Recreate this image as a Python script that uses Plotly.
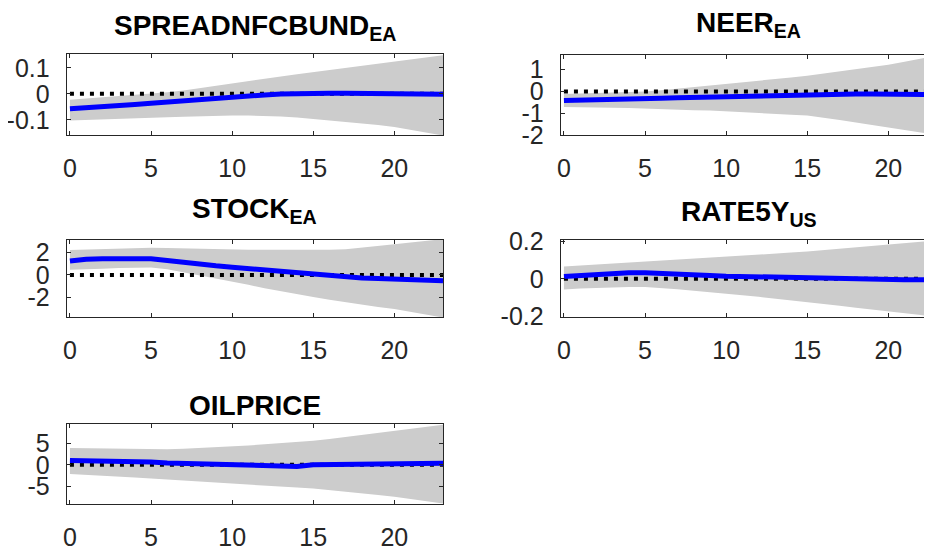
import plotly.graph_objects as go

W, H = 932, 550
OFF = 8  # page body margin in the browser (px)

horizon = list(range(24))

spread_mid = [-0.057, -0.054, -0.050, -0.045, -0.041, -0.036, -0.031, -0.026, -0.021, -0.016, -0.012, -0.008,
              -0.004, -0.001, 0.001, 0.002, 0.002, 0.002, 0.002, 0.002, 0.002, 0.002, 0.000, -0.002]
spread_up = [-0.023, -0.018, -0.013, -0.008, -0.004, 0.000, 0.006, 0.013, 0.022, 0.031, 0.042, 0.050,
             0.058, 0.067, 0.075, 0.083, 0.092, 0.100, 0.108, 0.116, 0.124, 0.132, 0.140, 0.148]
spread_lo = [-0.102, -0.100, -0.098, -0.096, -0.094, -0.092, -0.090, -0.088, -0.086, -0.084, -0.083, -0.083,
             -0.084, -0.087, -0.091, -0.096, -0.102, -0.108, -0.114, -0.120, -0.127, -0.138, -0.149, -0.160]

neer_mid = [-0.42, -0.41, -0.39, -0.37, -0.35, -0.33, -0.31, -0.29, -0.27, -0.25, -0.23, -0.21,
            -0.19, -0.17, -0.15, -0.14, -0.13, -0.12, -0.12, -0.12, -0.12, -0.13, -0.14, -0.15]
neer_up = [-0.12, -0.10, -0.08, -0.06, -0.03, 0.00, 0.05, 0.12, 0.19, 0.26, 0.34, 0.41,
           0.49, 0.57, 0.64, 0.72, 0.82, 0.92, 1.02, 1.12, 1.22, 1.36, 1.50, 1.64]
neer_lo = [-0.72, -0.73, -0.74, -0.75, -0.76, -0.77, -0.80, -0.83, -0.86, -0.88, -0.90, -0.95,
           -0.99, -1.03, -1.07, -1.11, -1.21, -1.31, -1.42, -1.53, -1.65, -1.76, -1.88, -2.00]

stock_mid = [1.25, 1.42, 1.45, 1.46, 1.46, 1.45, 1.30, 1.12, 0.95, 0.82, 0.70, 0.57,
             0.45, 0.30, 0.15, 0.03, -0.12, -0.22, -0.28, -0.33, -0.37, -0.44, -0.50, -0.53]
stock_up = [2.25, 2.30, 2.35, 2.40, 2.44, 2.46, 2.42, 2.38, 2.35, 2.32, 2.30, 2.28,
            2.26, 2.25, 2.25, 2.25, 2.27, 2.32, 2.45, 2.60, 2.77, 2.93, 3.08, 3.23]
stock_lo = [0.46, 0.50, 0.56, 0.62, 0.66, 0.66, 0.50, 0.28, 0.00, -0.30, -0.62, -0.90,
            -1.20, -1.48, -1.75, -2.00, -2.25, -2.48, -2.70, -2.90, -3.08, -3.35, -3.60, -3.85]

rate_mid = [0.012, 0.018, 0.024, 0.028, 0.032, 0.032, 0.030, 0.026, 0.022, 0.018, 0.014, 0.012,
            0.010, 0.008, 0.005, 0.003, 0.000, -0.003, -0.004, -0.005, -0.005, -0.005, -0.005, -0.005]
rate_up = [0.065, 0.070, 0.075, 0.080, 0.085, 0.090, 0.095, 0.100, 0.105, 0.110, 0.115, 0.121,
           0.127, 0.133, 0.139, 0.145, 0.152, 0.159, 0.166, 0.173, 0.180, 0.188, 0.197, 0.205]
rate_lo = [-0.057, -0.052, -0.048, -0.045, -0.043, -0.044, -0.050, -0.056, -0.063, -0.070, -0.078, -0.087,
           -0.096, -0.105, -0.114, -0.122, -0.133, -0.143, -0.154, -0.165, -0.175, -0.184, -0.193, -0.202]

oil_mid = [1.00, 0.98, 0.92, 0.75, 0.70, 0.65, 0.45, 0.38, 0.33, 0.20, 0.05, 0.05,
           0.03, 0.00, -0.35, 0.00, 0.05, 0.05, 0.05, 0.05, 0.05, 0.25, 0.35, 0.35]
oil_up = [3.85, 3.78, 3.70, 3.62, 3.55, 3.48, 3.56, 3.70, 3.85, 4.00, 4.20, 4.45,
          4.70, 4.95, 5.20, 5.50, 5.90, 6.35, 6.80, 7.25, 7.70, 8.20, 8.70, 9.20]
oil_lo = [-2.10, -2.30, -2.50, -2.70, -2.90, -3.10, -3.30, -3.50, -3.75, -4.00, -4.20, -4.45,
          -4.70, -4.95, -5.20, -5.40, -5.75, -6.10, -6.50, -6.90, -7.30, -7.80, -8.30, -8.85]

titles = ["<b>SPREADNFCBUND<sub>EA</sub></b>", "<b>NEER<sub>EA</sub></b>", "<b>STOCK<sub>EA</sub></b>",
          "<b>RATE5Y<sub>US</sub></b>", "<b>OILPRICE</b>"]
x_ticks = [0, 5, 10, 15, 20]
y_ticks = [[-0.1, 0, 0.1], [-2, -1, 0, 1], [-2, 0, 2], [-0.2, 0, 0.2], [-5, 0, 5]]
y_ticktext = [["-0.1", "0", "0.1"], ["-2", "-1", "0", "1"], ["-2", "0", "2"], ["-0.2", "0", "0.2"], ["-5", "0", "5"]]
y_ranges = [[-0.158, 0.153], [-2.0, 1.67], [-3.8, 3.15], [-0.203, 0.206], [-8.95, 9.35]]

series = [(spread_mid, spread_up, spread_lo), (neer_mid, neer_up, neer_lo), (stock_mid, stock_up, stock_lo),
          (rate_mid, rate_up, rate_lo), (oil_mid, oil_up, oil_lo)]

# panel pixel boxes in window coords: (left, top, right, bottom)
boxes = [(66.7, 54, 443, 135), (560.7, 55, 937, 135), (66.7, 240, 443, 317),
         (560.7, 240, 937, 317), (66.7, 424, 443, 504)]
title_y = [24, 21.5, 206.7, 209.5, 404]

AX = "#262626"
FONT = "Liberation Sans, Arial, sans-serif"
VIS_R = W - OFF  # right edge of visible window in figure coords

fig = go.Figure()
layout = dict(width=W, height=H, margin=dict(l=0, r=0, t=0, b=0, autoexpand=False), plot_bgcolor="white",
              paper_bgcolor="white", showlegend=False)
annotations = []
for i, ((mid, up, lo), box) in enumerate(zip(series, boxes)):
    n = i + 1
    xa = "x" if n == 1 else f"x{n}"
    ya = "y" if n == 1 else f"y{n}"
    left, top, right, bottom = [v - OFF for v in box]
    xr = [-0.2, 23.0]
    right_c = min(right, VIS_R)
    xr_end = xr[0] + (xr[1] - xr[0]) * (right_c - left) / (right - left)
    fig.add_trace(go.Scatter(x=horizon + horizon[::-1], y=up + lo[::-1], fill="toself",
                             fillcolor="#cccccc", line=dict(width=0), mode="lines",
                             hoverinfo="skip", xaxis=xa, yaxis=ya))
    fig.add_trace(go.Scatter(x=[horizon[0], horizon[-1]], y=[0, 0], mode="lines",
                             line=dict(color="black", width=4, dash="4px,6px"),
                             xaxis=xa, yaxis=ya))
    fig.add_trace(go.Scatter(x=horizon, y=mid, mode="lines",
                             line=dict(color="#0000ff", width=5), xaxis=xa, yaxis=ya))
    clipped = right > VIS_R
    layout["xaxis" if n == 1 else f"xaxis{n}"] = dict(
        domain=[left / W, right_c / W], range=[xr[0], xr_end], anchor=ya, automargin=False,
        tickvals=x_ticks, ticks="inside", ticklen=4, tickcolor=AX, tickwidth=1,
        showline=True, linecolor=AX, linewidth=1, mirror="allticks",
        showgrid=False, zeroline=False,
        tickfont=dict(family=FONT, size=25, color=AX), ticklabelstandoff=11)
    layout["yaxis" if n == 1 else f"yaxis{n}"] = dict(
        domain=[1 - bottom / H, 1 - top / H], range=y_ranges[i], anchor=xa, automargin=False,
        tickvals=y_ticks[i], ticktext=y_ticktext[i], ticks="inside", ticklen=4,
        tickcolor=AX, tickwidth=1, showline=True, linecolor=AX, linewidth=1,
        mirror=(False if clipped else "allticks"), showgrid=False, zeroline=False,
        tickfont=dict(family=FONT, size=25, color=AX), ticklabelstandoff=11)
    annotations.append(dict(text=titles[i], xref="paper", yref="paper",
                            x=((left + right) / 2) / W, y=1 - (title_y[i] - OFF - 16) / H,
                            xanchor="center", yanchor="top", showarrow=False,
                            font=dict(family=FONT, size=28, color="black")))

layout["annotations"] = annotations
fig.update_layout(**layout)
fig.write_html("out.html")
